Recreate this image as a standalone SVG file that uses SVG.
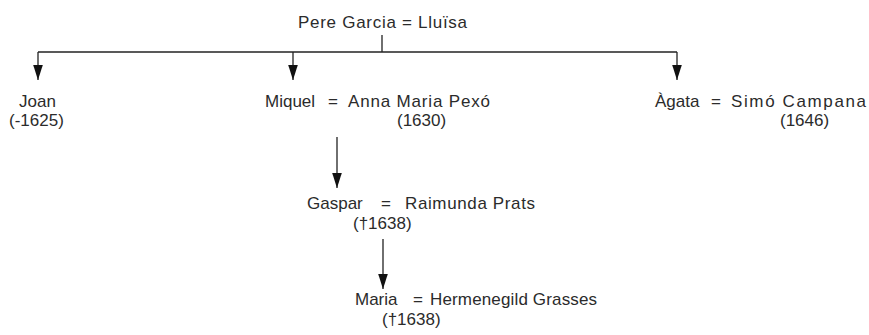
<svg xmlns="http://www.w3.org/2000/svg" width="869" height="335" viewBox="0 0 869 335">
<defs>
<style>
text { font-family: "Liberation Sans", Arial, sans-serif; font-size: 17px; fill: #2b2b2b; }
.ln { stroke: #222; stroke-width: 1.3; fill: none; }
</style>
<marker id="ah" markerUnits="userSpaceOnUse" markerWidth="15" markerHeight="10" viewBox="0 -5 15 10" refX="15" refY="0" orient="auto">
<path d="M0,-4.8 L15,0 L0,4.8 Z" fill="#111"/>
</marker>
</defs>
<rect width="869" height="335" fill="#fff"/>
<g id="connectors">
<line class="ln" x1="382" y1="35" x2="382" y2="52"/>
<line class="ln" x1="38" y1="52" x2="677" y2="52"/>
<line class="ln" x1="38" y1="52" x2="38" y2="80" marker-end="url(#ah)"/>
<line class="ln" x1="293" y1="52" x2="293" y2="80" marker-end="url(#ah)"/>
<line class="ln" x1="677" y1="52" x2="677" y2="80" marker-end="url(#ah)"/>
<line class="ln" x1="337" y1="137" x2="337" y2="188" marker-end="url(#ah)"/>
<line class="ln" x1="383" y1="239" x2="383" y2="289" marker-end="url(#ah)"/>
</g>
<g id="pere-garcia">
<text x="298" y="28" textLength="169" lengthAdjust="spacing">Pere Garcia = Lluïsa</text>
</g>
<g id="joan">
<text x="19" y="107">Joan</text>
<text x="9" y="126">(-1625)</text>
</g>
<g id="miquel">
<text x="265" y="107">Miquel</text>
<text x="328" y="107">=</text>
<text x="348" y="107" textLength="142" lengthAdjust="spacing">Anna Maria Pexó</text>
<text x="397" y="126">(1630)</text>
</g>
<g id="agata">
<text x="655" y="107">Àgata</text>
<text x="711" y="107">=</text>
<text x="731" y="107" textLength="135" lengthAdjust="spacing">Simó Campana</text>
<text x="780" y="126">(1646)</text>
</g>
<g id="gaspar">
<text x="307" y="209">Gaspar</text>
<text x="381" y="209">=</text>
<text x="405" y="209" textLength="130" lengthAdjust="spacing">Raimunda Prats</text>
<text x="353" y="229">(†1638)</text>
</g>
<g id="maria">
<text x="355" y="305">Maria</text>
<text x="413" y="305">=</text>
<text x="430" y="305" textLength="167" lengthAdjust="spacing">Hermenegild Grasses</text>
<text x="382" y="325">(†1638)</text>
</g>
</svg>
